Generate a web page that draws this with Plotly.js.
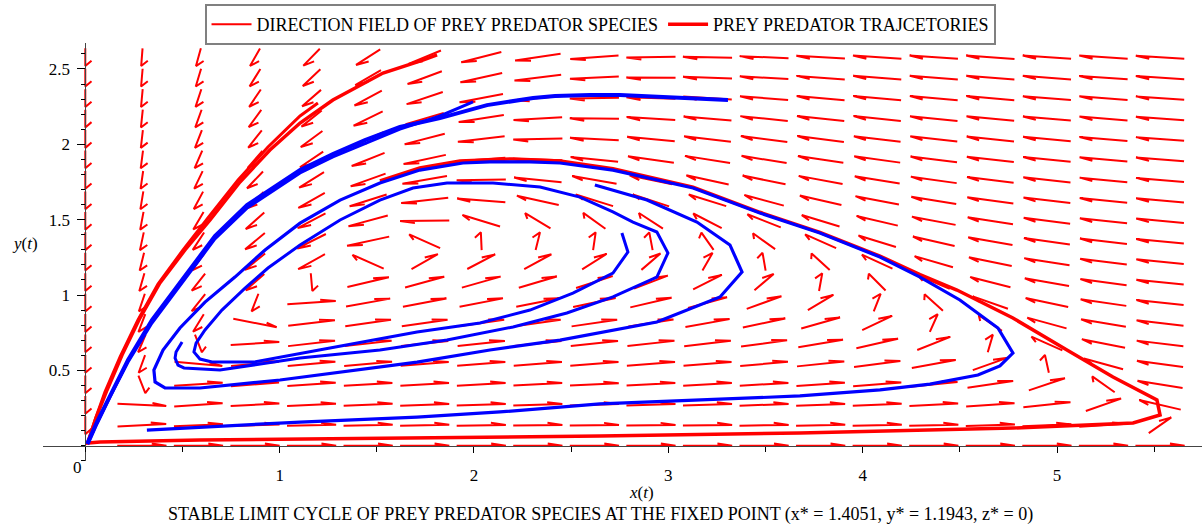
<!DOCTYPE html>
<html><head><meta charset="utf-8">
<script src="https://cdn.plot.ly/plotly-3.0.1.min.js"></script>
<style>html,body{margin:0;padding:0;background:#fff}#chart{width:1202px;height:527px}</style>
</head><body><div id="chart"></div>
<script>
// ---------- data ----------
const titleText = 'STABLE LIMIT CYCLE OF PREY PREDATOR SPECIES AT THE FIXED POINT (x* = 1.4051, y* = 1.1943, z* = 0)';
const fieldName = 'DIRECTION FIELD OF PREY PREDATOR SPECIES';
const trajName = 'PREY PREDATOR TRAJCETORIES';
const xTickVals = [1, 2, 3, 4, 5];
const xTickText = ['1', '2', '3', '4', '5'];
const yTickVals = [0.5, 1, 1.5, 2, 2.5];
const yTickText = ['0.5', '1', '1.5', '2', '2.5'];

// fixed point (from the title) and model parameters of the direction field
const fixedPoint = [1.4051, 1.1943];
const preyParams = [1, 5.75, 1.411, 0.1, 0.607];   // r, K, q, m, e
const predParams = [0.18];                          // s
const fieldGrid = [20, 20, 5.53, 2.578];            // nx, ny, xmax, ymax

// trajectories (x, y)
const blueAx = [3.307,2.993,2.751,2.597,2.417,2.304,2.067,1.825,1.619,1.439,1.274,1.105,0.950,0.832,0.667,0.508,0.343,0.220,0.127,0.060,0.009];
const blueAy = [2.294,2.314,2.327,2.327,2.320,2.307,2.260,2.174,2.115,2.028,1.936,1.829,1.697,1.597,1.391,1.119,0.834,0.569,0.336,0.157,0.011];

const blueA2x = [1.995,1.825,1.619,1.274,1.105,0.832,0.667,0.508,0.343,0.220,0.127,0.060,0.014];
const blueA2y = [2.281,2.188,2.101,1.916,1.810,1.577,1.372,1.100,0.814,0.555,0.323,0.144,0.011];

const blueS2x = [0.317,0.590,1.105,1.707,2.134,2.648,3.163,3.677,4.089,4.346,4.593,4.706,4.773,4.696,4.500,4.295,4.089,3.780,3.471,3.127,2.715,2.443,2.288,2.082,1.943,1.721,1.516,1.311,1.105,0.925,0.770,0.616,0.487,0.400,0.353,0.359,0.410,0.590,1.002,1.707,2.082,2.443,2.941,3.266,3.379,3.317,3.147,2.890,2.622];
const blueS2y = [0.104,0.124,0.157,0.190,0.224,0.277,0.303,0.330,0.370,0.409,0.469,0.529,0.615,0.781,0.967,1.119,1.252,1.411,1.544,1.710,1.829,1.876,1.883,1.883,1.876,1.829,1.743,1.630,1.477,1.299,1.119,0.953,0.781,0.635,0.502,0.423,0.383,0.383,0.436,0.555,0.635,0.701,0.821,0.987,1.153,1.332,1.484,1.630,1.730];

const blueS1x = [0.498,0.467,0.462,0.477,0.508,0.693,1.105,1.516,1.861,2.201,2.478,2.715,2.941,2.998,2.941,2.818,2.715,2.545,2.340,2.098,1.861,1.686,1.516,1.311,1.105,0.940,0.822,0.703,0.616,0.570,0.559,0.590,0.652,0.868,1.259,1.707,2.031,2.288,2.509,2.715,2.792,2.761];
const blueS1y = [0.688,0.622,0.582,0.535,0.516,0.502,0.582,0.635,0.701,0.788,0.881,0.987,1.119,1.279,1.418,1.484,1.551,1.650,1.717,1.743,1.743,1.710,1.630,1.498,1.332,1.179,1.046,0.900,0.768,0.681,0.622,0.575,0.555,0.555,0.648,0.754,0.814,0.900,1.013,1.146,1.285,1.411];

const redR1x = [1.810,1.737,1.532,1.398,1.274,1.105,0.950,0.796,0.642,0.513,0.384,0.281,0.189,0.112,0.055,0.014,0.076,0.590,1.619,2.648,3.677,4.192,4.773,5.391,5.530,5.514,5.288,5.051,4.773,4.485,4.295,4.089,3.780,3.471,3.127,2.715,2.443,2.201,1.928,1.721,1.516];
const redR1y = [2.593,2.559,2.473,2.380,2.294,2.141,1.962,1.750,1.498,1.299,1.080,0.847,0.602,0.370,0.184,0.018,0.025,0.038,0.051,0.064,0.084,0.098,0.117,0.151,0.204,0.303,0.456,0.635,0.847,1.033,1.135,1.258,1.416,1.549,1.716,1.838,1.890,1.903,1.890,1.843,1.757];

const redR2x = [1.197,1.105,0.940,0.786,0.631,0.503,0.374,0.271,0.179,0.101,0.050,0.009];
const redR2y = [2.274,2.188,1.982,1.763,1.511,1.299,1.073,0.834,0.589,0.356,0.171,0.011];

// ---------- direction field ----------
const [r, K, q, m, e] = preyParams;
const [s] = predParams;
const h = fixedPoint[0] / fixedPoint[1];
function rates(x, y) {
  if (x <= 0) return y > 0 ? [0, -1] : [0, 0];
  const dx = r * x * (1 - x / K) - q * x * y / (m + x + e * y);
  const dy = s * y * (1 - h * y / x);
  return [dx, dy];
}
const [nx, ny, gxMax, gyMax] = fieldGrid;
const cx = gxMax / (nx - 1), cy = gyMax / (ny - 1);
const L = 0.87, back = 0.26, side = 0.11;
const fx = [], fy = [];
for (let i = 0; i < nx; i++) {
  for (let j = 0; j < ny; j++) {
    const x = i * cx, y = j * cy;
    const f = rates(x, y);
    let ux = f[0] / cx, uy = f[1] / cy;
    const n = Math.hypot(ux, uy);
    if (n === 0) continue;
    ux /= n; uy /= n;
    const tx = x - L / 2 * ux * cx, ty = y - L / 2 * uy * cy;
    const px = x + L / 2 * ux * cx, py = y + L / 2 * uy * cy;
    const bx = px + (-back * ux - side * uy) * cx, by = py + (-back * uy + side * ux) * cy;
    fx.push(tx, px, bx, null);
    fy.push(ty, py, by, null);
  }
}

const RED = '#ff0000', BLUE = '#0000ff';
const traces = [
  {x: fx, y: fy, mode: 'lines', name: fieldName, line: {color: RED, width: 2}, hoverinfo: 'skip'},
  {x: redR1x, y: redR1y, mode: 'lines', name: trajName, line: {color: RED, width: 3.5}},
  {x: redR2x, y: redR2y, mode: 'lines', showlegend: false, line: {color: RED, width: 3}},
  {x: blueAx, y: blueAy, mode: 'lines', showlegend: false, line: {color: BLUE, width: 4}},
  {x: blueA2x, y: blueA2y, mode: 'lines', showlegend: false, line: {color: BLUE, width: 3}},
  {x: blueS2x, y: blueS2y, mode: 'lines', showlegend: false, line: {color: BLUE, width: 3.2}},
  {x: blueS1x, y: blueS1y, mode: 'lines', showlegend: false, line: {color: BLUE, width: 3}}
];

const serif = 'Liberation Serif, Times New Roman, serif';
const xMin = -0.2176, xMax = 5.7459, yMin = -0.1015, yMax = 2.6722;
const layout = {
  width: 1202, height: 527,
  margin: {l: 43, r: 0, t: 43, b: 66},
  paper_bgcolor: '#fff', plot_bgcolor: '#fff',
  showlegend: true,
  legend: {orientation: 'h', x: 0.4806, xanchor: 'center', y: 1.093, yanchor: 'top',
    bordercolor: '#808080', borderwidth: 2, bgcolor: '#fff',
    font: {family: serif, size: 18, color: '#000'}, itemwidth: 40, tracegroupgap: 0},
  xaxis: {range: [xMin, xMax], anchor: 'free', position: (0 - yMin) / (yMax - yMin),
    showgrid: false, zeroline: false, showline: true, linecolor: '#444', linewidth: 1,
    tickmode: 'array', tickvals: xTickVals, ticktext: xTickText,
    ticks: 'outside', ticklen: 6, tickcolor: '#000', tickwidth: 1, ticklabelstandoff: 8,
    minor: {tickmode: 'linear', tick0: 0, dtick: 0.5, ticks: 'outside', ticklen: 5, tickcolor: '#000'},
    tickfont: {family: serif, size: 17, color: '#000'}, fixedrange: true},
  yaxis: {range: [yMin, yMax], anchor: 'free', position: (0 - xMin) / (xMax - xMin),
    showgrid: false, zeroline: false, showline: true, linecolor: '#444', linewidth: 1,
    tickmode: 'array', tickvals: yTickVals, ticktext: yTickText,
    ticks: 'outside', ticklen: 8, tickcolor: '#000', tickwidth: 1, ticklabelstandoff: 4,
    minor: {tickmode: 'linear', tick0: 0, dtick: 0.1, ticks: 'outside', ticklen: 4, tickcolor: '#000'},
    tickfont: {family: serif, size: 17, color: '#000'}, fixedrange: true},
  annotations: [
    {text: titleText, xref: 'paper', yref: 'paper', x: 0.4806, y: -0.129, xanchor: 'center', yanchor: 'middle',
      showarrow: false, font: {family: serif, size: 18, color: '#000'}},
    {text: '<i>x</i>(<i>t</i>)', xref: 'paper', yref: 'paper', x: 0.5168, y: -0.0742, xanchor: 'center', yanchor: 'middle',
      showarrow: false, font: {family: serif, size: 17, color: '#000'}},
    {text: '<i>y</i>(<i>t</i>)', xref: 'paper', yref: 'paper', x: -0.0155, y: 0.5215, xanchor: 'center', yanchor: 'middle',
      showarrow: false, font: {family: serif, size: 17, color: '#000'}},
    {text: '0', xref: 'paper', yref: 'paper', x: 0.0298, y: -0.0167, xanchor: 'center', yanchor: 'middle',
      showarrow: false, font: {family: serif, size: 17, color: '#000'}}
  ]
};
Plotly.newPlot('chart', traces, layout, {displayModeBar: false, staticPlot: true});
</script>
</body></html>
